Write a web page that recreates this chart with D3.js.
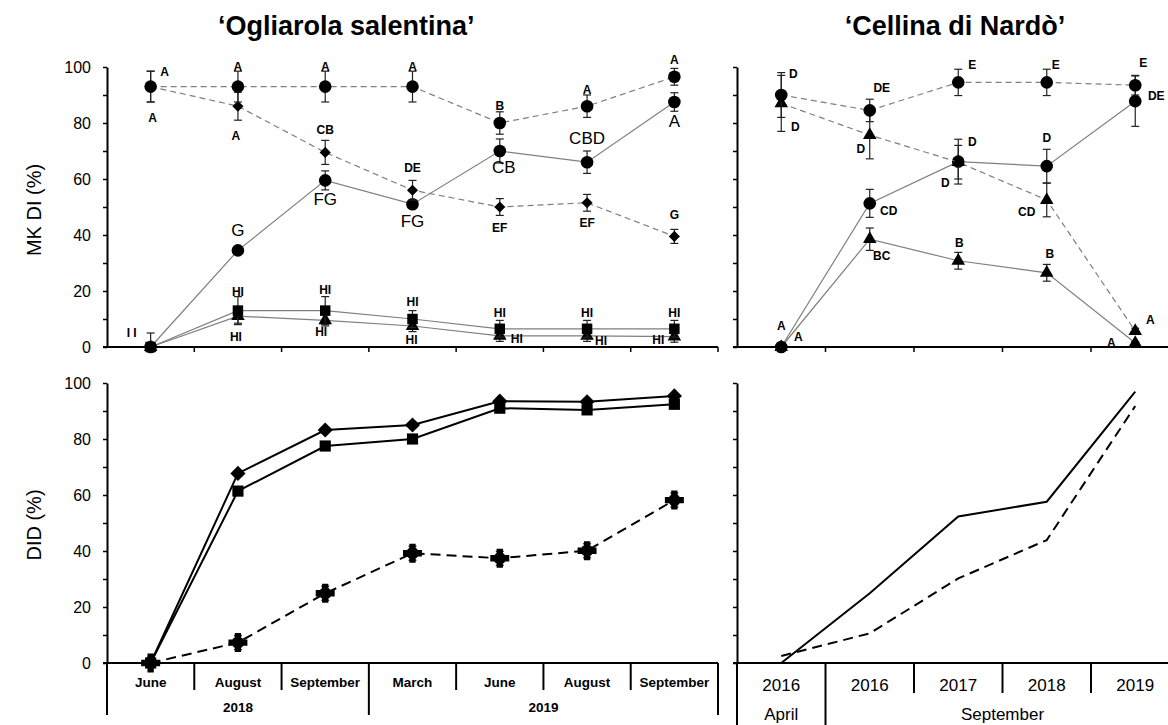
<!DOCTYPE html>
<html lang="en">
<head>
<meta charset="UTF-8">
<title>MK DI and DID</title>
<script src="https://d3js.org/d3.v7.min.js"></script>
<style>
  * { margin: 0; padding: 0; }
  body { background: #fff; font-family: "Liberation Sans", Arial, sans-serif; }
  svg { display: block; }
</style>
</head>
<body>
<svg id="chart" width="1168" height="725"></svg>
<script>
// ---- categories ----
const ogMonths = ["June", "August", "September", "March", "June", "August", "September"];
const ogYears = ["2018", "2019"];
const ogYearSpan = [3, 4];
const ceYears = ["2016", "2016", "2017", "2018", "2019"];
const ceMonths = ["April", "September"];
const ceMonthSpan = [1, 4];

// ---- MK DI (%), 'Ogliarola salentina' ----
const ogDashCircle     = [93, 93, 93, 93, 80, 86, 96.5];
const ogDashCircleErr  = [5.5, 5.5, 5.5, 5.5, 4, 4, 3];
const ogDashCircleLbl  = ["A", "A", "A", "A", "B", "A", "A"];
const ogDashDiamond    = [93, 86, 69.5, 56, 50, 51.5, 39.5];
const ogDashDiamondErr = [5.5, 5, 4.3, 3.5, 3, 3, 2.5];
const ogDashDiamondLbl = ["A", "A", "CB", "DE", "EF", "EF", "G"];
const ogSolidCircle    = [0, 34.5, 59.5, 51, 70, 66, 87.5];
const ogSolidCircleErr = [0, 1, 3.4, 1, 4.3, 4, 3.3];
const ogSolidCircleLbl = ["", "G", "FG", "FG", "CB", "CBD", "A"];
const ogSquare         = [0, 13, 13, 10, 6.5, 6.5, 6.5];
const ogSquareErr      = [5, 5, 5, 3, 3, 3, 3];
const ogSquareLbl      = ["I I", "HI", "HI", "HI", "HI", "HI", "HI"];
const ogTriangle       = [0, 11, 9.5, 7.5, 4, 4, 3.7];
const ogTriangleErr    = [0, 2.5, 2, 2, 2, 2, 2];
const ogTriangleLbl    = ["", "HI", "HI", "HI", "HI", "HI", "HI"];

// ---- MK DI (%), 'Cellina di Nardò' ----
const ceDashCircle      = [90, 84.5, 94.5, 94.5, 93.5];
const ceDashCircleErr   = [8, 4, 4.7, 4.7, 3.5];
const ceDashCircleLbl   = ["D", "DE", "E", "E", "E"];
const ceDashTriangle    = [87, 75.7, 66, 52.5, 5.7];
const ceDashTriangleErr = [10, 8.5, 6, 6, 1];
const ceDashTriangleLbl = ["D", "D", "D", "CD", "A"];
const ceSolidCircle     = [0, 51.3, 66.2, 64.6, 87.8];
const ceSolidCircleErr  = [0, 5, 8, 6, 9];
const ceSolidCircleLbl  = ["A", "CD", "D", "D", "DE"];
const ceSolidTriangle   = [0, 38.5, 30.8, 26.5, 1.4];
const ceSolidTriangleErr = [0, 4, 3, 3, 0.5];
const ceSolidTriangleLbl = ["A", "BC", "B", "B", "A"];

// ---- DID (%) ----
const ogDidDiamond = [0, 67.7, 83.2, 85, 93.5, 93.3, 95.4];
const ogDidSquare  = [0, 61.4, 77.5, 80, 91, 90.4, 92.4];
const ogDidCross   = [0, 7.3, 24.9, 39.2, 37.4, 40.1, 58.2];
const ogDidCrossErr = [2, 2.5, 2.5, 2.5, 2.5, 2.5, 2.5];
const ceDidSolid   = [0, 24.9, 52.3, 57.6, 96.9];
const ceDidDash    = [2.5, 10.6, 30.2, 43.9, 91.8];

const yTicks = d3.range(0, 101, 10);

// label offsets (px, relative to marker)
const off = {
  ogDashCircle:  [[14,-15],[0,-20],[0,-20],[0,-20],[0,-17],[0,-16],[0,-17]],
  ogDashDiamond: [[2,31],[-2,30],[0,-22],[0,-22],[0,21],[0,20],[0,-21]],
  ogSolidCircle: [[0,0],[0,-20],[0,19],[0,17],[4,16],[0,-24],[0,19]],
  ogSquare:      [[-19,-14],[0,-19],[0,-21],[0,-17],[0,-16],[0,-16],[0,-16]],
  ogTriangle:    [[0,0],[-2,21],[-4,12],[-1,14],[17,3],[14,5],[-16,3]],
  ceDashCircle:  [[12,-21],[12,-22],[14,-17],[9,-17],[8,-22]],
  ceDashTriangle:[[14,24],[-9,14],[-13,21],[-20,12],[15,-11]],
  ceSolidCircle: [[0,-21],[19,8],[14,-20],[0,-28],[21,-5]],
  ceSolidTriangle:[[17,-10],[12,17],[1,-18],[3,-19],[-24,0]]
};

const svg = d3.select("#chart");
const GRAY = "#7f7f7f";

const xO = d3.scaleBand().domain(d3.range(ogMonths.length)).range([107, 718]);
const xC = d3.scaleBand().domain(d3.range(ceYears.length)).range([737, 1179.5]);
const yTop = d3.scaleLinear().domain([0, 100]).range([347, 67]);
const yBot = d3.scaleLinear().domain([0, 100]).range([663, 383]);

function cx(x, i) { return x(i) + x.bandwidth() / 2; }

function yAxis(x0, y, labels) {
  const g = svg.append("g").attr("transform", `translate(${x0},0)`)
    .call(d3.axisLeft(y).tickValues(yTicks).tickSize(4).tickSizeOuter(0).tickPadding(12)
      .tickFormat(d => labels && d % 20 === 0 ? d : ""));
  g.select(".domain").attr("stroke", "#000").attr("stroke-width", 2);
  g.selectAll(".tick line").attr("stroke", "#000").attr("stroke-width", 1.5);
  g.selectAll(".tick text").attr("font-size", 16).attr("fill", "#000")
    .attr("font-family", "Liberation Sans, Arial, sans-serif");
}

function topXAxis(x, y) {
  const [a, b] = x.range();
  svg.append("line").attr("x1", a - 4).attr("x2", b).attr("y1", y(0)).attr("y2", y(0))
    .attr("stroke", "#000").attr("stroke-width", 2);
  svg.append("g").selectAll("line").data(x.domain().slice(1).concat([null]))
    .join("line")
    .attr("x1", d => d === null ? b : x(d)).attr("x2", d => d === null ? b : x(d))
    .attr("y1", y(0)).attr("y2", y(0) + 5)
    .attr("stroke", "#000").attr("stroke-width", 1.5);
}

function series(x, y, vals, opts) {
  const g = svg.append("g");
  const line = d3.line().x((d, i) => cx(x, i)).y(d => y(d));
  g.append("path").datum(vals).attr("d", line).attr("fill", "none")
    .attr("stroke", opts.stroke || GRAY).attr("stroke-width", opts.width || 1.2)
    .attr("stroke-dasharray", opts.dash || null);
  if (opts.err) {
    vals.forEach((v, i) => {
      const e = opts.err[i];
      if (!e) return;
      const xx = cx(x, i);
      const y1 = y(v - e), y2 = y(v + e);
      g.append("line").attr("x1", xx).attr("x2", xx).attr("y1", Math.min(y1, y(0))).attr("y2", y2)
        .attr("stroke", "#222").attr("stroke-width", 1.2);
      [y1, y2].forEach(yy => {
        if (yy > y(0)) return;
        g.append("line").attr("x1", xx - 4).attr("x2", xx + 4).attr("y1", yy).attr("y2", yy)
          .attr("stroke", "#222").attr("stroke-width", 1.2);
      });
    });
  }
  if (opts.symbol) {
    vals.forEach((v, i) => {
      const xx = cx(x, i), yy = y(v);
      opts.symbol.forEach(s => {
        g.append("path").attr("d", d3.symbol().type(s.type).size(s.size)())
          .attr("transform", `translate(${xx},${yy})${s.rot ? " rotate(" + s.rot + ")" : ""}`)
          .attr("fill", "#000");
      });
    });
  }
  if (opts.labels) {
    opts.labels.forEach((t, i) => {
      if (!t) return;
      const o = opts.offsets[i];
      g.append("text").attr("x", cx(x, i) + o[0]).attr("y", y(vals[i]) + o[1])
        .attr("text-anchor", "middle").attr("dominant-baseline", "central")
        .attr("font-size", opts.big ? 17 : 12).attr("font-weight", opts.big ? "normal" : "bold")
        .attr("font-family", "Liberation Sans, Arial, sans-serif")
        .attr("fill", "#000").text(t);
    });
  }
}

const circle = [{ type: d3.symbolCircle, size: 125 }];
const diamond = [{ type: d3.symbolSquare, size: 62, rot: 45 }];
const square = [{ type: d3.symbolSquare, size: 110 }];
const triangle = [{ type: d3.symbolTriangle, size: 80 }];

// ---- titles ----
svg.append("text").attr("x", 218).attr("y", 26).attr("dominant-baseline", "central")
  .attr("font-size", 27).attr("font-weight", "bold").text("\u2018Ogliarola salentina\u2019");
svg.append("text").attr("x", 955).attr("y", 26).attr("text-anchor", "middle").attr("dominant-baseline", "central")
  .attr("font-size", 27).attr("font-weight", "bold").text("\u2018Cellina di Nard\u00f2\u2019");

svg.append("text").attr("transform", "translate(34,210) rotate(-90)").attr("text-anchor", "middle")
  .attr("dominant-baseline", "central").attr("font-size", 20).text("MK DI (%)");
svg.append("text").attr("transform", "translate(34,525) rotate(-90)").attr("text-anchor", "middle")
  .attr("dominant-baseline", "central").attr("font-size", 20).text("DID (%)");

// ---- top left ----
yAxis(107, yTop, true);
topXAxis(xO, yTop);
series(xO, yTop, ogTriangle, { err: ogTriangleErr, symbol: triangle, labels: ogTriangleLbl, offsets: off.ogTriangle });
series(xO, yTop, ogSquare, { err: ogSquareErr, symbol: square, labels: ogSquareLbl, offsets: off.ogSquare });
series(xO, yTop, ogSolidCircle, { err: ogSolidCircleErr, symbol: circle, labels: ogSolidCircleLbl, offsets: off.ogSolidCircle, big: true });
series(xO, yTop, ogDashDiamond, { dash: "6,4", err: ogDashDiamondErr, symbol: diamond, labels: ogDashDiamondLbl, offsets: off.ogDashDiamond });
series(xO, yTop, ogDashCircle, { dash: "6,4", err: ogDashCircleErr, symbol: circle, labels: ogDashCircleLbl, offsets: off.ogDashCircle });

// ---- top right ----
yAxis(737, yTop, false);
topXAxis(xC, yTop);
series(xC, yTop, ceSolidTriangle, { err: ceSolidTriangleErr, symbol: triangle, labels: ceSolidTriangleLbl, offsets: off.ceSolidTriangle });
series(xC, yTop, ceSolidCircle, { err: ceSolidCircleErr, symbol: circle, labels: ceSolidCircleLbl, offsets: off.ceSolidCircle });
series(xC, yTop, ceDashTriangle, { dash: "6,4", err: ceDashTriangleErr, symbol: triangle, labels: ceDashTriangleLbl, offsets: off.ceDashTriangle });
series(xC, yTop, ceDashCircle, { dash: "6,4", err: ceDashCircleErr, symbol: circle, labels: ceDashCircleLbl, offsets: off.ceDashCircle });

// ---- bottom left ----
yAxis(107, yBot, true);
series(xO, yBot, ogDidCross, { stroke: "#000", width: 2, dash: "10,6", err: ogDidCrossErr,
  symbol: [{ type: d3.symbolCross, size: 200 }, { type: d3.symbolCircle, size: 120 }] });
series(xO, yBot, ogDidSquare, { stroke: "#000", width: 2, symbol: [{ type: d3.symbolSquare, size: 125 }] });
series(xO, yBot, ogDidDiamond, { stroke: "#000", width: 2, symbol: [{ type: d3.symbolSquare, size: 115, rot: 45 }] });

// ---- bottom right ----
yAxis(737, yBot, false);
series(xC, yBot, ceDidSolid, { stroke: "#000", width: 2 });
series(xC, yBot, ceDidDash, { stroke: "#000", width: 2, dash: "10,6" });

// ---- bottom category axes ----
function bottomAxis(x, y, cats, groups, spans, o) {
  const y0 = y(0);
  const [a, b] = x.range();
  const g = svg.append("g");
  g.append("line").attr("x1", a - 4).attr("x2", b).attr("y1", y0).attr("y2", y0)
    .attr("stroke", "#000").attr("stroke-width", 2);
  const bounds = d3.cumsum(spans);
  x.domain().forEach(i => {
    if (i === 0) return;
    const long = bounds.includes(i);
    g.append("line").attr("x1", x(i)).attr("x2", x(i)).attr("y1", y0)
      .attr("y2", long ? o.longEnd : o.shortEnd).attr("stroke", "#000").attr("stroke-width", 2);
  });
  g.append("line").attr("x1", a).attr("x2", a).attr("y1", y0).attr("y2", o.longEnd)
    .attr("stroke", "#000").attr("stroke-width", 2);
  if (o.rightEdge) {
    g.append("line").attr("x1", b).attr("x2", b).attr("y1", y0).attr("y2", o.longEnd)
      .attr("stroke", "#000").attr("stroke-width", 2);
  }
  cats.forEach((c, i) => {
    g.append("text").attr("x", cx(x, i)).attr("y", o.catY).attr("text-anchor", "middle")
      .attr("dominant-baseline", "central").attr("font-size", o.catSize)
      .attr("font-weight", o.bold ? "bold" : "normal").text(c);
  });
  let start = 0;
  groups.forEach((gname, k) => {
    const end = start + spans[k];
    const mid = (x(start) + (end < cats.length ? x(end) : b)) / 2;
    g.append("text").attr("x", mid).attr("y", o.grpY).attr("text-anchor", "middle")
      .attr("dominant-baseline", "central").attr("font-size", o.grpSize)
      .attr("font-weight", o.bold ? "bold" : "normal").text(gname);
    start = end;
  });
}
bottomAxis(xO, yBot, ogMonths, ogYears, ogYearSpan,
  { shortEnd: 690, longEnd: 715, rightEdge: true, catY: 682, grpY: 707, catSize: 13.5, grpSize: 13.5, bold: true });
bottomAxis(xC, yBot, ceYears, ceMonths, ceMonthSpan,
  { shortEnd: 693, longEnd: 725, rightEdge: false, catY: 685, grpY: 714, catSize: 17, grpSize: 17, bold: false });
</script>
</body>
</html>
